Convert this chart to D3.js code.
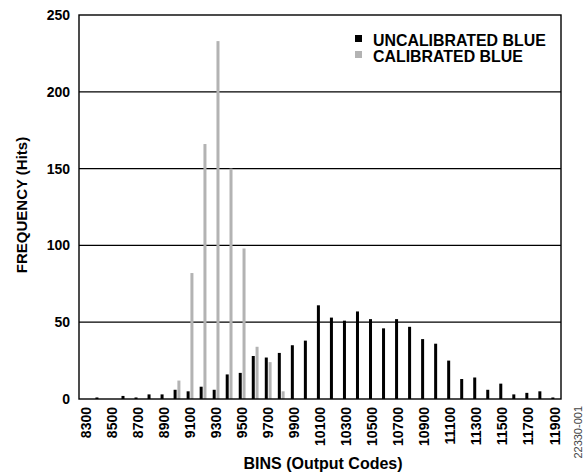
<!DOCTYPE html>
<html>
<head>
<meta charset="utf-8">
<script src="https://cdn.jsdelivr.net/npm/d3@7"></script>
<style>
    body {margin: 0; background: #fff;}
    text {font-family: "Liberation Sans", Arial, sans-serif; font-weight: bold;}
</style>
</head>
<body>
<svg id="chart" width="588" height="473"></svg>
<script>
'use strict';

// bins (output codes)
const bins = [8300, 8400, 8500, 8600, 8700, 8800, 8900, 9000, 9100, 9200,
              9300, 9400, 9500, 9600, 9700, 9800, 9900, 10000, 10100, 10200,
              10300, 10400, 10500, 10600, 10700, 10800, 10900, 11000, 11100, 11200,
              11300, 11400, 11500, 11600, 11700, 11800, 11900];

const uncalibrated = [0, 1, 0, 2, 1, 3, 3, 6, 5, 8,
                      6, 16, 17, 28, 27, 30, 35, 38, 61, 53,
                      51, 57, 52, 46, 52, 47, 39, 36, 25, 13,
                      14, 6, 10, 3, 4, 5, 1];

const calibrated = [0, 0, 0, 0, 0, 0, 0, 12, 82, 166,
                    233, 150, 98, 34, 24, 5, 0, 0, 0, 0,
                    0, 0, 0, 0, 0, 0, 0, 0, 0, 0,
                    0, 0, 0, 0, 0, 0, 0];

const xTickLabels = ['8300', '8500', '8700', '8900', '9100', '9300', '9500', '9700', '9900',
                     '10100', '10300', '10500', '10700', '10900', '11100', '11300', '11500',
                     '11700', '11900'];
const yTickLabels = [0, 50, 100, 150, 200, 250];

const seriesNames = ['UNCALIBRATED BLUE', 'CALIBRATED BLUE'];
const seriesColors = ['#000000', '#b3b3b3'];

function chart() {
    const svg = d3.select('#chart');
    const left = 79, right = 561, top = 15, bottom = 399;

    const x = d3.scaleBand().domain(bins).range([left, right]);
    const y = d3.scaleLinear().domain([0, 250]).range([bottom, top]);
    const bw = x.bandwidth();
    const x1 = d3.scaleBand()
        .domain([0, 1])
        .range([bw / 2 - 3.1, bw / 2 + 3.7])
        .paddingInner(0.21);

    // grid lines
    svg.append('g')
        .selectAll('line')
        .data(yTickLabels.slice(1, -1))
        .enter()
        .append('line')
        .attr('x1', left)
        .attr('x2', right)
        .attr('y1', function(d) {return y(d);})
        .attr('y2', function(d) {return y(d);})
        .attr('stroke', '#000')
        .attr('stroke-width', 1.3);

    // bars
    const rows = bins.map(function(b, i) {return {bin: b, vals: [uncalibrated[i], calibrated[i]]};});
    svg.append('g')
        .selectAll('g')
        .data(rows)
        .enter()
        .append('g')
        .attr('transform', function(d) {return 'translate(' + x(d.bin) + ',0)';})
        .selectAll('rect')
        .data(function(d) {return d.vals.map(function(v, k) {return {k: k, v: v};});})
        .enter()
        .append('rect')
        .attr('x', function(d) {return x1(d.k);})
        .attr('width', x1.bandwidth())
        .attr('y', function(d) {return y(d.v);})
        .attr('height', function(d) {return bottom - y(d.v);})
        .style('fill', function(d) {return seriesColors[d.k];});

    // frame
    svg.append('rect')
        .attr('x', left)
        .attr('y', top)
        .attr('width', right - left)
        .attr('height', bottom - top)
        .attr('fill', 'none')
        .attr('stroke', '#000')
        .attr('stroke-width', 1.4);

    // y axis
    const yAxis = svg.append('g')
        .attr('transform', 'translate(' + left + ',0)')
        .call(d3.axisLeft(y).tickValues(yTickLabels).tickSize(0).tickPadding(9));
    yAxis.select('.domain').remove();
    yAxis.selectAll('text')
        .style('font-size', '14px')
        .style('font-family', '"Liberation Sans", Arial, sans-serif')
        .attr('fill', '#000');

    // x axis
    const xAxis = svg.append('g')
        .attr('transform', 'translate(0,' + bottom + ')')
        .call(d3.axisBottom(x).tickValues(xTickLabels.map(Number)).tickSize(0));
    xAxis.select('.domain').remove();
    xAxis.selectAll('text')
        .style('font-size', '14px')
        .style('font-family', '"Liberation Sans", Arial, sans-serif')
        .attr('fill', '#000')
        .attr('transform', 'rotate(-90)')
        .attr('text-anchor', 'end')
        .attr('x', -8)
        .attr('y', 0)
        .attr('dy', '0.36em');

    // axis titles
    svg.append('text')
        .attr('x', 323)
        .attr('y', 469)
        .attr('text-anchor', 'middle')
        .style('font-size', '16px')
        .text('BINS (Output Codes)');

    svg.append('text')
        .attr('transform', 'translate(27,205) rotate(-90)')
        .attr('text-anchor', 'middle')
        .style('font-size', '15px')
        .text('FREQUENCY (Hits)');

    // legend
    const legend = svg.append('g')
        .selectAll('g')
        .data(seriesNames)
        .enter()
        .append('g')
        .attr('transform', function(d, i) {return 'translate(355,' + (35 + i * 16) + ')';});
    legend.append('rect')
        .attr('width', 7)
        .attr('height', 7)
        .style('fill', function(d, i) {return seriesColors[i];});
    legend.append('text')
        .attr('x', 18)
        .attr('y', 11)
        .style('font-size', '15.9px')
        .text(function(d) {return d;});

    // figure code
    svg.append('text')
        .attr('transform', 'translate(582,406) rotate(-90)')
        .attr('text-anchor', 'end')
        .style('font-size', '11px')
        .style('font-weight', 'normal')
        .attr('fill', '#444')
        .text('22330-001');
}

chart();
</script>
</body>
</html>
